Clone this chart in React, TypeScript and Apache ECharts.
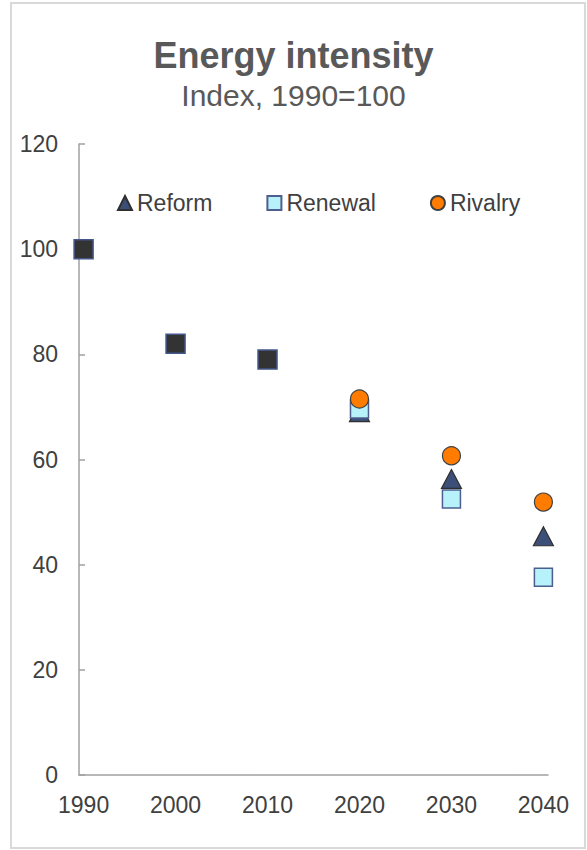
import React, { useEffect, useRef } from "react";
import * as echarts from "echarts";

const years = [1990, 2000, 2010, 2020, 2030, 2040];
const historyValues = [100, 82, 79, null, null, null];
const reformValues = [null, null, null, 69, 56.3, 45.4];
const renewalValues = [null, null, null, 69.6, 52.5, 37.6];
const rivalryValues = [null, null, null, 71.5, 60.7, 51.9];
const yTicks = [0, 20, 40, 60, 80, 100, 120];

const FONT = "'Liberation Sans', Arial, Helvetica, sans-serif";

function pairs(vals: (number | null)[]) {
  return years
    .map((y, i) => (vals[i] == null ? null : [y, vals[i]]))
    .filter((p) => p !== null);
}

export default function App() {
  const ref = useRef<HTMLDivElement>(null);
  useEffect(() => {
    if (!ref.current) return;
    const chart = echarts.init(ref.current, null, { renderer: "svg" });
    chart.setOption({
      animation: false,
      backgroundColor: "#ffffff",
      title: {
        left: "center",
        top: 32,
        text: "Energy intensity",
        subtext: "Index, 1990=100",
        itemGap: 7,
        textStyle: { fontFamily: FONT, fontSize: 36, fontWeight: "bold", color: "#595959" },
        subtextStyle: { fontFamily: FONT, fontSize: 30, color: "#595959" },
      },
      graphic: [
        {
          type: "rect",
          shape: { x: 11, y: 3, width: 574, height: 845 },
          style: { fill: "none", stroke: "#d9d9d9", lineWidth: 2 },
          silent: true,
        },
      ],
      legend: {
        left: 112,
        top: 186,
        itemWidth: 14,
        itemHeight: 14,
        itemGap: 54,
        data: ["Reform", "Renewal", "Rivalry"],
        textStyle: { fontFamily: FONT, fontSize: 23, color: "#404040", lineHeight: 24 },
      },
      grid: { left: 79, right: 39, top: 144, bottom: 75, containLabel: false },
      xAxis: {
        type: "value",
        min: 1989.5,
        max: 2040.5,
        axisLine: { show: true, lineStyle: { color: "#a0a0a0", width: 1.5 } },
        axisTick: { show: false },
        splitLine: { show: false },
        axisLabel: {
          customValues: years,
          formatter: (v: number) => String(v),
          fontFamily: FONT,
          fontSize: 23,
          color: "#404040",
          margin: 18,
        },
      },
      yAxis: {
        type: "value",
        min: 0,
        max: 120,
        interval: 20,
        axisLine: { show: true, lineStyle: { color: "#a0a0a0", width: 1.5 } },
        axisTick: { show: true, inside: true, length: 6, lineStyle: { color: "#a0a0a0", width: 1.5 } },
        splitLine: { show: false },
        axisLabel: {
          customValues: yTicks,
          fontFamily: FONT,
          fontSize: 23,
          color: "#404040",
          margin: 21,
        },
      },
      series: [
        {
          name: "Reform",
          type: "scatter",
          symbol: "triangle",
          symbolSize: [20, 19],
          data: pairs(reformValues),
          itemStyle: { color: "#3C4F78", borderColor: "#2f2f2f", borderWidth: 1.2, opacity: 1 },
          z: 2,
        },
        {
          name: "Renewal",
          type: "scatter",
          symbol: "rect",
          symbolSize: 18,
          data: pairs(renewalValues),
          itemStyle: { color: "#B7F1FA", borderColor: "#4E5F8F", borderWidth: 1.5, opacity: 1 },
          z: 3,
        },
        {
          name: "Rivalry",
          type: "scatter",
          symbol: "circle",
          symbolSize: 18,
          data: pairs(rivalryValues),
          itemStyle: { color: "#FF7C00", borderColor: "#404040", borderWidth: 1.2, opacity: 1 },
          z: 4,
        },
        {
          name: "History",
          type: "scatter",
          symbol: "rect",
          symbolSize: 19,
          data: pairs(historyValues),
          itemStyle: { color: "#333333", borderColor: "#44578A", borderWidth: 1.5, opacity: 1 },
          z: 5,
        },
      ],
    });
    return () => chart.dispose();
  }, []);
  return (
    <div
      ref={ref}
      style={{ position: "fixed", left: 0, top: 0, width: 587, height: 850 }}
    />
  );
}
